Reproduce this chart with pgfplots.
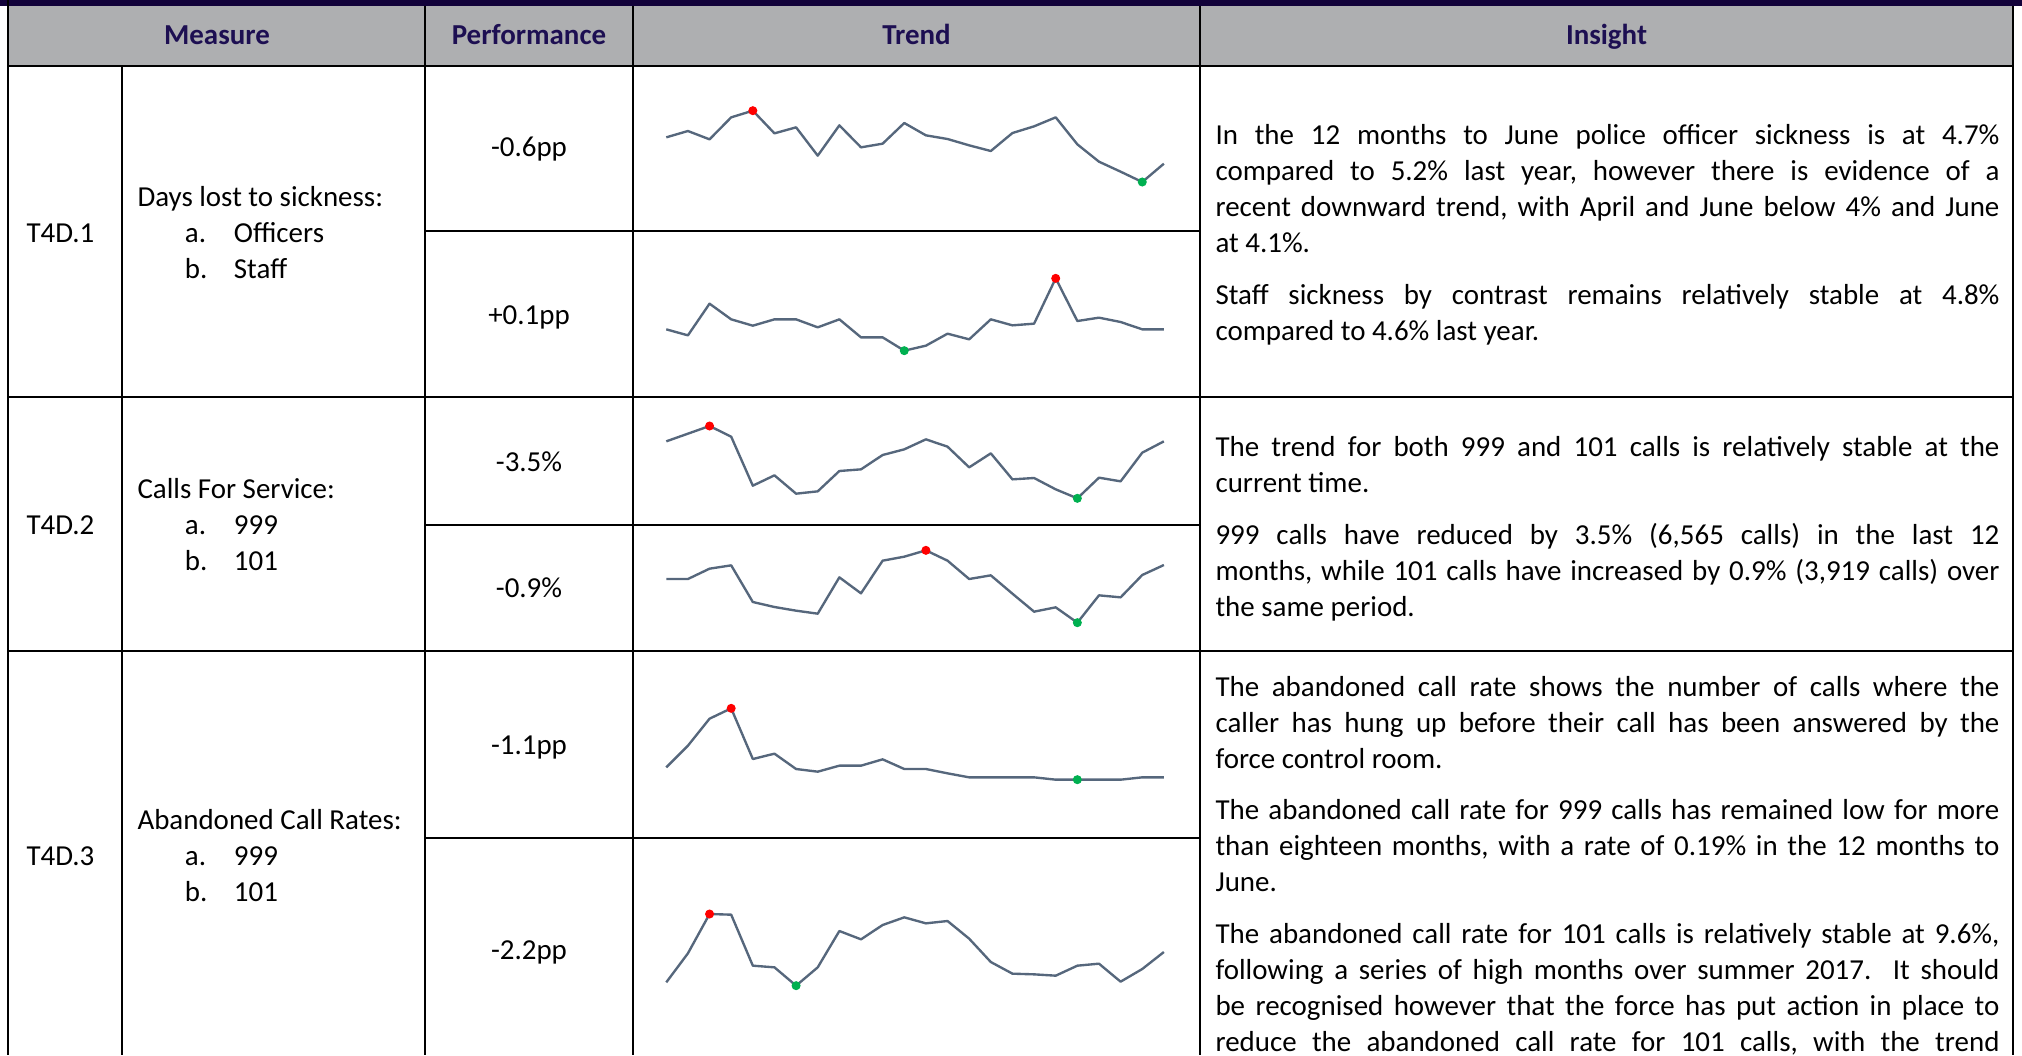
\documentclass[border=0pt]{standalone}
\usepackage{fontspec}
\setmainfont{Carlito}
\usepackage{pgfplots}
\usepackage{pgfplotstable}
\pgfplotsset{compat=1.18}

\definecolor{topbar}{HTML}{12023A}
\definecolor{hdrgray}{HTML}{AEAFB1}
\definecolor{hdrtext}{HTML}{1D0F52}
\definecolor{spark}{HTML}{56677C}
\definecolor{hipt}{HTML}{FF0000}
\definecolor{lopt}{HTML}{00B050}

% sparkline readings (depth below the top of each trend cell, larger = lower)
\pgfplotstableread{
m  s1  s2  s3  s4  s5  s6
1  232 298 124 162 352 427
2  213 316 101 162 287 340
3  238 221 78  131 206 222
4  172 268 110 121 175 224
5  152 287 257 231 327 377
6  220 268 226 246 311 382
7  202 268 281 257 357 437
8  287 292 274 266 365 382
9  196 268 213 157 347 273
10 262 322 208 205 347 298
11 251 322 165 107 328 255
12 189 362 148 95  357 232
13 226 347 118 76  357 250
14 237 311 140 107 370 243
15 256 328 202 162 382 296
16 273 268 160 151 382 366
17 219 286 238 206 382 401
18 199 281 234 260 382 403
19 172 145 268 247 389 407
20 253 273 295 293 389 377
21 305 263 233 211 389 371
22 335 276 244 217 389 425
23 366 298 158 150 382 387
24 311 298 124 120 382 336
}\trend

\pgfplotsset{
  spark/.style={scale only axis, hide axis, xmin=1, xmax=24, ymin=0,
    y dir=reverse, width=189.09pt, anchor=south west, clip=false},
  sparkline/.style={color=spark, line width=0.9pt, line join=round, mark=none},
  hiptst/.style={only marks, mark=*, mark size=1.5pt, color=hipt},
  loptst/.style={only marks, mark=*, mark size=1.5pt, color=lopt},
}
\newcommand\tf{\fontsize{11}{13.7}\selectfont}

\begin{document}
\frenchspacing\hyphenpenalty=10000 \exhyphenpenalty=10000 \tolerance=9999
\begin{tikzpicture}
\begin{scope}[x=0.38pt,y=0.38pt]
\useasboundingbox (0,0) rectangle (2022,1055);
% header
\fill[topbar] (0,1048.7) rectangle (2022,1055);
\fill[hdrgray] (8.3,988.7) rectangle (2013,1048.7);
% grid
\begin{scope}[line width=0.8pt, black]
\draw (8.3,1055) -- (8.3,0);
\draw (2013,1048.7) -- (2013,0);
\draw (425,1048.7) -- (425,0);
\draw (632.7,1048.7) -- (632.7,0);
\draw (1200,1048.7) -- (1200,0);
\draw (121.7,988.7) -- (121.7,0);
\draw (8.3,988.7) -- (2013,988.7);
\draw (8.3,658) -- (2013,658);
\draw (8.3,404) -- (2013,404);
\draw (425,823.7) -- (1200,823.7);
\draw (425,530) -- (1200,530);
\draw (425,217) -- (1200,217);
\end{scope}
% header text
\begin{scope}[every node/.style={inner sep=0pt, anchor=base, text=hdrtext, font=\tf\bfseries}]
\node at (217,1010) {Measure};
\node at (529,1010) {Performance};
\node at (916.5,1010) {Trend};
\node at (1606.5,1010) {Insight};
\end{scope}
% measure column
\begin{scope}[every node/.style={inner sep=0pt, anchor=base west, font=\tf}]
\node at (26,812) {T4D.1};
\node at (137,848) {Days lost to sickness:};
\node at (184.4,812) {a.}; \node at (233.4,812) {Officers};
\node at (184.4,776) {b.}; \node at (233.4,776) {Staff};
\node at (26,520) {T4D.2};
\node at (137,556) {Calls For Service:};
\node at (184.4,520) {a.}; \node at (233.4,520) {999};
\node at (184.4,484) {b.}; \node at (233.4,484) {101};
\node at (26,190) {T4D.3};
\node at (137,226) {Abandoned Call Rates:};
\node at (184.4,190) {a.}; \node at (233.4,190) {999};
\node at (184.4,154) {b.}; \node at (233.4,154) {101};
\end{scope}
% performance column
\begin{scope}[every node/.style={inner sep=0pt, anchor=base, font=\tf}]
\node at (529,898) {-0.6pp};
\node at (529,730) {+0.1pp};
\node at (529,583) {-3.5\%};
\node at (529,457) {-0.9\%};
\node at (529,301) {-1.1pp};
\node at (529,96) {-2.2pp};
\end{scope}
% insight column
\begin{scope}[every node/.style={inner sep=0pt, anchor=base west, font=\tf, text width=297.9pt, align=justify}]
\node at (1215,910.5) {\setlength\parskip{5.9pt}%
In the 12 months to June police officer sickness is at 4.7\%\linebreak
compared to 5.2\% last year, however there is evidence of a\linebreak
recent downward trend, with April and June below 4\% and June\linebreak
at 4.1\%.\par
Staff sickness by contrast remains relatively stable at 4.8\%\linebreak
compared to 4.6\% last year.};
\node at (1215,598.5) {\setlength\parskip{5.9pt}%
The trend for both 999 and 101 calls is relatively stable at the\linebreak
current time.\par
999 calls have reduced by 3.5\% (6,565 calls) in the last 12\linebreak
months, while 101 calls have increased by 0.9\% (3,919 calls) over\linebreak
the same period.};
\node at (1215,359) {\setlength\parskip{5.9pt}%
The abandoned call rate shows the number of calls where the\linebreak
caller has hung up before their call has been answered by the\linebreak
force control room.\par
The abandoned call rate for 999 calls has remained low for more\linebreak
than eighteen months, with a rate of 0.19\% in the 12 months to\linebreak
June.\par
The abandoned call rate for 101 calls is relatively stable at 9.6\%,\linebreak
following a series of high months over summer 2017.\ \ It should\linebreak
be recognised however that the force has put action in place to\linebreak
reduce the abandoned call rate for 101 calls, with the trend\parfillskip=0pt\par};
\end{scope}
\end{scope}

% sparklines
\begin{axis}[spark, height=64.6pt, ymax=510, at={(253.19pt,313.5pt)}]
\addplot[sparkline] table[x=m,y=s1]{\trend};
\addplot[hiptst] coordinates {(5,152)};
\addplot[loptst] coordinates {(23,366)};
\end{axis}
\begin{axis}[spark, height=64.6pt, ymax=510, at={(253.19pt,248.9pt)}]
\addplot[sparkline] table[x=m,y=s2]{\trend};
\addplot[hiptst] coordinates {(19,145)};
\addplot[loptst] coordinates {(12,362)};
\end{axis}
\begin{axis}[spark, height=49.4pt, ymax=390, at={(253.19pt,199.5pt)}]
\addplot[sparkline] table[x=m,y=s3]{\trend};
\addplot[hiptst] coordinates {(3,78)};
\addplot[loptst] coordinates {(20,295)};
\end{axis}
\begin{axis}[spark, height=49.4pt, ymax=390, at={(253.19pt,152pt)}]
\addplot[sparkline] table[x=m,y=s4]{\trend};
\addplot[hiptst] coordinates {(13,76)};
\addplot[loptst] coordinates {(20,293)};
\end{axis}
\begin{axis}[spark, height=72.2pt, ymax=570, at={(253.19pt,81.7pt)}]
\addplot[sparkline] table[x=m,y=s5]{\trend};
\addplot[hiptst] coordinates {(4,175)};
\addplot[loptst] coordinates {(20,389)};
\end{axis}
\begin{axis}[spark, height=81.7pt, ymax=645, at={(253.19pt,0pt)}]
\addplot[sparkline] table[x=m,y=s6]{\trend};
\addplot[hiptst] coordinates {(3,222)};
\addplot[loptst] coordinates {(7,437)};
\end{axis}
\end{tikzpicture}
\end{document}
